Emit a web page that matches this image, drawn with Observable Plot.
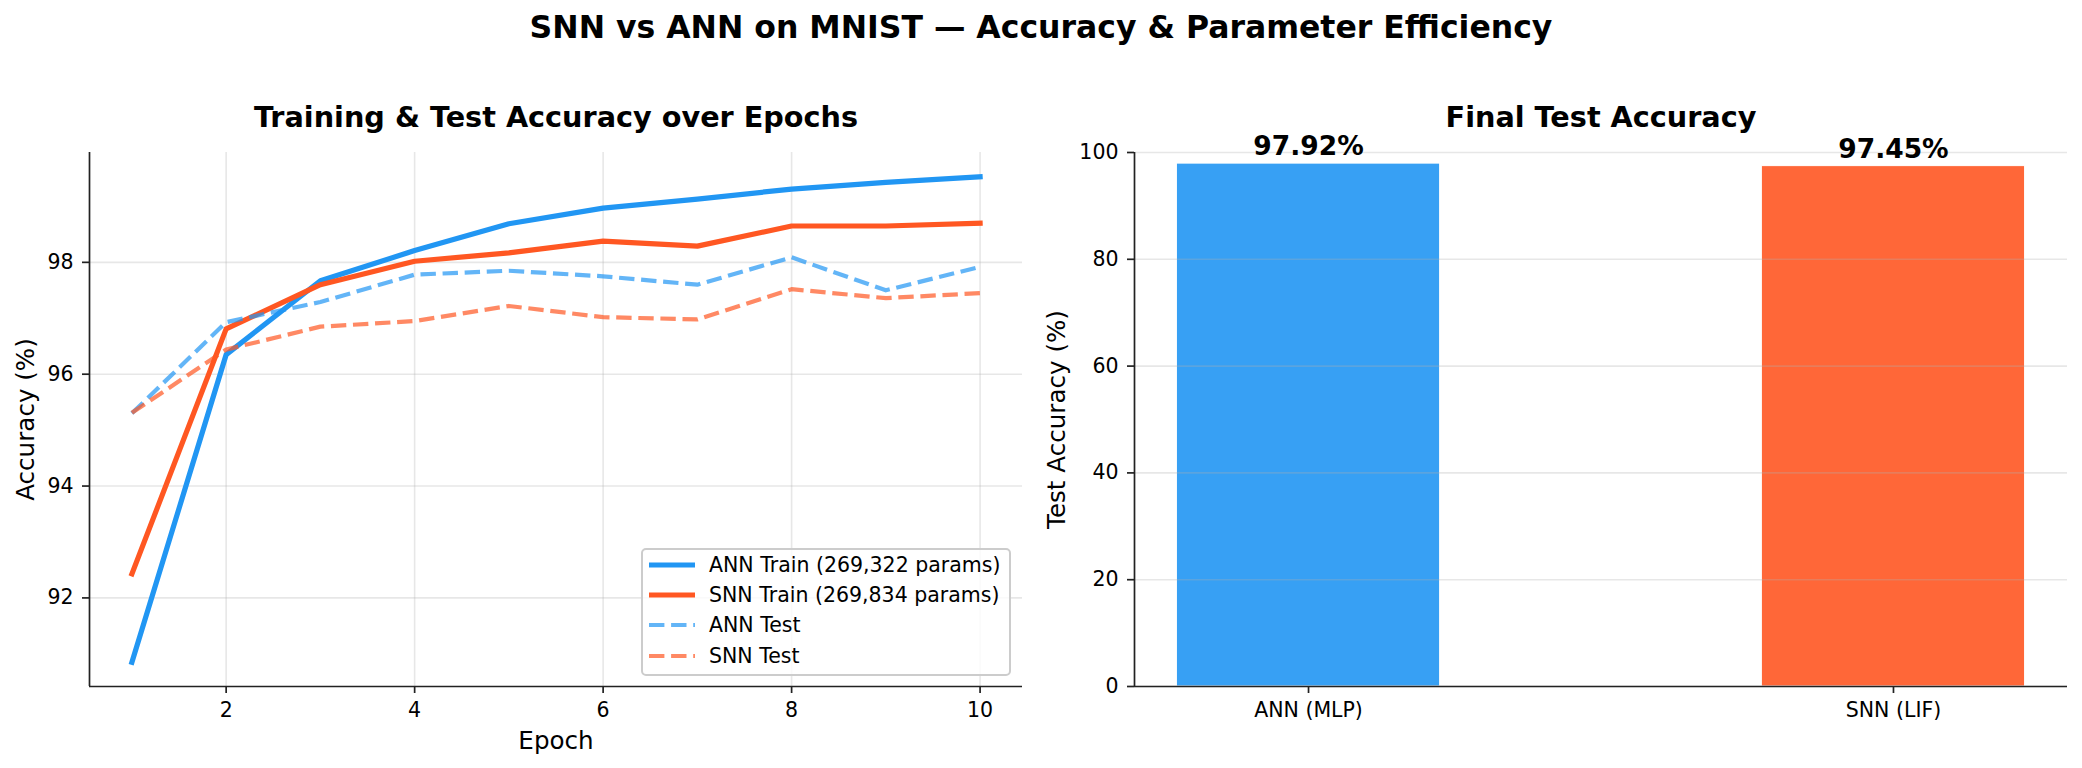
<!DOCTYPE html>
<html>
<head>
<meta charset="utf-8">
<script src="https://cdn.jsdelivr.net/npm/d3@7"></script>
<script src="https://cdn.jsdelivr.net/npm/@observablehq/plot@0.6"></script>
<style>
  html, body { margin: 0; padding: 0; background: #fff; }
  #root { position: relative; width: 2082px; height: 768px; overflow: hidden; background: #fff;
          font-family: "DejaVu Sans", sans-serif; color: #000; }
  #title { position: absolute; left: 0; top: 12px; width: 2082px; text-align: center;
           font-size: 31.5px; line-height: 31.5px; font-weight: bold; }
  .panel { position: absolute; top: 0; }
  #legend { position: absolute; left: 641px; top: 548px; width: 370px; height: 128px; box-sizing: border-box;
            border: 2px solid #cccccc; border-radius: 5px; background: rgba(255,255,255,0.8); }
  .lrow { position: absolute; left: 0; height: 30px; display: flex; align-items: center; font-size: 20.5px; white-space: nowrap; }
  .lrow svg { margin-left: 6px; margin-right: 14px; }
</style>
</head>
<body>
<div id="root">
  <div id="title">SNN vs ANN on MNIST — Accuracy &amp; Parameter Efficiency</div>
  <div id="left" class="panel" style="left:0px"></div>
  <div id="right" class="panel" style="left:1041px"></div>
  <div id="legend"></div>
</div>
<script>
// ---------------- data ----------------
const epochs = [1, 2, 3, 4, 5, 6, 7, 8, 9, 10];
const annTrain = [90.85, 96.35, 97.67, 98.21, 98.69, 98.97, 99.13, 99.31, 99.43, 99.53];
const snnTrain = [92.43, 96.81, 97.60, 98.02, 98.17, 98.38, 98.29, 98.65, 98.65, 98.70];
const annTest  = [95.30, 96.93, 97.29, 97.78, 97.85, 97.75, 97.60, 98.09, 97.50, 97.92];
const snnTest  = [95.31, 96.44, 96.85, 96.95, 97.22, 97.02, 96.98, 97.52, 97.36, 97.45];
const seriesNames = ["ANN Train (269,322 params)", "SNN Train (269,834 params)", "ANN Test", "SNN Test"];
const models = ["ANN (MLP)", "SNN (LIF)"];
const finalAcc = [97.92, 97.45];
const finalLabels = ["97.92%", "97.45%"];
const xTicks = [2, 4, 6, 8, 10];
const yTicksLeft = [92, 94, 96, 98];
const yTicksRight = [0, 20, 40, 60, 80, 100];

// ---------------- styles ----------------
const BLUE = "#2196F3", ORANGE = "#FF5722";
const seriesStyles = [
  {values: annTrain, stroke: BLUE,   width: 5.2, dash: null,        opacity: 1},
  {values: snnTrain, stroke: ORANGE, width: 5.2, dash: null,        opacity: 1},
  {values: annTest,  stroke: BLUE,   width: 4.2, dash: "15.4,6.7",  opacity: 0.7},
  {values: snnTest,  stroke: ORANGE, width: 4.2, dash: "15.4,6.7",  opacity: 0.7}
];
const barColors = [BLUE, ORANGE];
const SPINE = "#222";
const GRID = {stroke: "#b0b0b0", strokeOpacity: 0.3, strokeWidth: 1.6};
const TICK_FS = 20.5, LABEL_FS = 24.6, SUB_FS = 28.7;
const baseStyle = {fontFamily: "DejaVu Sans", fontSize: "20.5px", color: "#000", background: "transparent", overflow: "visible"};

// ---------------- left panel ----------------
const allVals = [...annTrain, ...snnTrain, ...annTest, ...snnTest];
const yLo = d3.min(allVals), yHi = d3.max(allVals), yPad = (yHi - yLo) * 0.05;
const xLo = d3.min(epochs), xHi = d3.max(epochs), xPad = (xHi - xLo) * 0.05;
const yDom = [yLo - yPad, yHi + yPad];
const xDom = [xLo - xPad, xHi + xPad];

const lineMarks = seriesStyles.map(s =>
  Plot.line(epochs, {
    x: d => d, y: (d, i) => s.values[i],
    stroke: s.stroke, strokeWidth: s.width, strokeOpacity: s.opacity,
    strokeDasharray: s.dash, strokeLinecap: s.dash ? "butt" : "square", strokeLinejoin: "round"
  })
);

const leftChart = Plot.plot({
  width: 1041, height: 768,
  marginLeft: 89, marginRight: 19, marginTop: 152, marginBottom: 82,
  style: baseStyle,
  x: {domain: xDom},
  y: {domain: yDom},
  marks: [
    Plot.gridX({ticks: xTicks, ...GRID}),
    Plot.gridY({ticks: yTicksLeft, ...GRID}),
    ...lineMarks,
    Plot.ruleX([xDom[0]], {stroke: SPINE, strokeWidth: 1.7}),
    Plot.ruleY([yDom[0]], {stroke: SPINE, strokeWidth: 1.7}),
    Plot.axisX({ticks: xTicks, tickSize: 7, tickPadding: 9, fontSize: TICK_FS, label: null, stroke: SPINE, strokeWidth: 1.7}),
    Plot.axisY({ticks: yTicksLeft, tickSize: 7, tickPadding: 9, fontSize: TICK_FS, label: null, stroke: SPINE, strokeWidth: 1.7}),
    Plot.text(["Training & Test Accuracy over Epochs"], {text: d => d, frameAnchor: "top", lineAnchor: "middle", textAnchor: "middle", dy: -34.5, fontSize: SUB_FS, fontWeight: "bold"}),
    Plot.text(["Epoch"], {text: d => d, frameAnchor: "bottom", lineAnchor: "middle", textAnchor: "middle", dy: 55, fontSize: LABEL_FS}),
    Plot.text(["Accuracy (%)"], {text: d => d, frameAnchor: "left", lineAnchor: "middle", textAnchor: "middle", dx: -63, rotate: -90, fontSize: LABEL_FS})
  ]
});
document.getElementById("left").appendChild(leftChart);

// ---------------- right panel ----------------
const barWidth = 0.45;
const idx = models.map((m, i) => i);
const bxLo = -barWidth / 2, bxHi = (models.length - 1) + barWidth / 2, bxPad = (bxHi - bxLo) * 0.05;
const bxDom = [bxLo - bxPad, bxHi + bxPad];

const rightChart = Plot.plot({
  width: 1041, height: 768,
  marginLeft: 93, marginRight: 15, marginTop: 152, marginBottom: 82,
  style: baseStyle,
  x: {domain: bxDom},
  y: {domain: [0, 100]},
  marks: [
    Plot.rectY(idx, {
      x1: i => i - barWidth / 2, x2: i => i + barWidth / 2,
      y1: 0, y2: i => finalAcc[i],
      fill: i => barColors[i], fillOpacity: 0.9, stroke: "white", strokeWidth: 1
    }),
    Plot.gridY({ticks: yTicksRight, ...GRID}),
    Plot.ruleX([bxDom[0]], {stroke: SPINE, strokeWidth: 1.7}),
    Plot.ruleY([0], {stroke: SPINE, strokeWidth: 1.7}),
    Plot.axisX({ticks: idx, tickFormat: i => models[i], tickSize: 7, tickPadding: 9, fontSize: TICK_FS, label: null, stroke: SPINE, strokeWidth: 1.7}),
    Plot.axisY({ticks: yTicksRight, tickSize: 7, tickPadding: 9, fontSize: TICK_FS, label: null, stroke: SPINE, strokeWidth: 1.7}),
    Plot.text(idx, {x: i => i, y: i => finalAcc[i], text: i => finalLabels[i], dy: -17, fontSize: 26.5, fontWeight: "bold"}),
    Plot.text(["Final Test Accuracy"], {text: d => d, frameAnchor: "top", lineAnchor: "middle", textAnchor: "middle", dy: -34.5, fontSize: SUB_FS, fontWeight: "bold"}),
    Plot.text(["Test Accuracy (%)"], {text: d => d, frameAnchor: "left", lineAnchor: "middle", textAnchor: "middle", dx: -77, rotate: -90, fontSize: LABEL_FS})
  ]
});
document.getElementById("right").appendChild(rightChart);

// ---------------- legend ----------------
const legend = document.getElementById("legend");
seriesNames.forEach((name, k) => {
  const s = seriesStyles[k];
  const row = document.createElement("div");
  row.className = "lrow";
  row.style.top = (17 + 30.2 * k - 15 - 2) + "px";
  const svg = d3.create("svg").attr("width", 46).attr("height", 10);
  svg.append("line").attr("x1", 0).attr("x2", 46).attr("y1", 5).attr("y2", 5)
    .attr("stroke", s.stroke).attr("stroke-width", s.width).attr("stroke-opacity", s.opacity)
    .attr("stroke-dasharray", s.dash);
  row.appendChild(svg.node());
  const span = document.createElement("span");
  span.textContent = name;
  row.appendChild(span);
  legend.appendChild(row);
});
</script>
</body>
</html>
